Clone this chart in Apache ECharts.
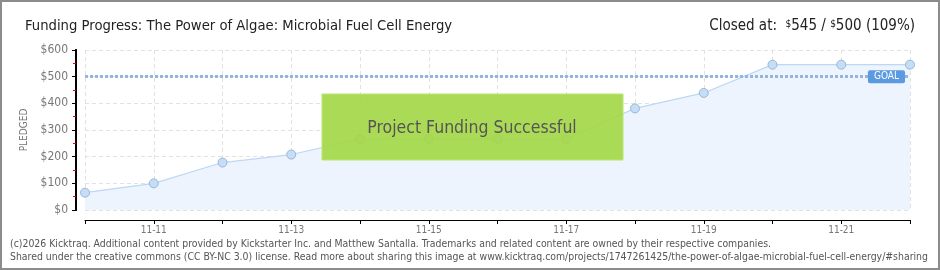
<!DOCTYPE html>
<html><head><meta charset="utf-8">
<script src="https://cdn.jsdelivr.net/npm/echarts@6/dist/echarts.min.js"></script>
<style>
html,body{margin:0;padding:0;background:#fff;}
#c{width:940px;height:270px;box-sizing:border-box;border:2px solid #8c8c8c;}
</style></head><body>
<div id="c"></div>
<script>
const categories = ['11-10','11-11','11-12','11-13','11-14','11-15','11-16','11-17','11-18','11-19','11-20','11-21','11-22'];
const pledged = [65,100,178,208,266,266,266,266,381,439,545,545,545];
const goal = 500;
const pledgedTotal = 545;
const percent = 109;
const titleText = 'Funding Progress: The Power of Algae: Microbial Fuel Cell Energy';
const footer1 = '(c)2026 Kicktraq. Additional content provided by Kickstarter Inc. and Matthew Santalla. Trademarks and related content are owned by their respective companies.';
const footer2 = 'Shared under the creative commons (CC BY-NC 3.0) license. Read more about sharing this image at www.kicktraq.com/projects/1747261425/the-power-of-algae-microbial-fuel-cell-energy/#sharing';

const FONT = '"Liberation Sans Narrow","DejaVu Sans Condensed","Liberation Sans",sans-serif';
const chart = echarts.init(document.getElementById('c'), null, {renderer:'canvas'});
const labelShow = (i) => i % 2 === 1;
chart.setOption({
  animation:false,
  textStyle:{fontFamily:FONT},
  title:[
    {text:titleText,left:18,top:12,textStyle:{fontFamily:FONT,fontSize:14.7,fontWeight:'normal',color:'#222'}},
    {text:'Closed at:  {sup|$}'+pledgedTotal+' / {sup|$}'+goal+' ('+percent+'%)',right:18,top:12,
     textStyle:{fontFamily:FONT,fontSize:15,fontWeight:'normal',color:'#222',
       rich:{sup:{fontFamily:FONT,fontSize:10,color:'#222',verticalAlign:'top',lineHeight:12}}}}
  ],
  grid:{left:83,right:28,top:48,bottom:58,containLabel:false},
  xAxis:{
    type:'category',data:categories,boundaryGap:false,offset:10,
    axisLine:{show:true,onZero:false,lineStyle:{color:'#000',width:1}},
    axisTick:{show:true,interval:0,length:4,lineStyle:{color:'#000',width:1}},
    axisLabel:{interval:labelShow,color:'#777',fontSize:10,fontFamily:FONT,margin:5},
    splitLine:{show:true,interval:0,lineStyle:{color:'#e2e2e2',type:[4,3]}}
  },
  yAxis:[{
    type:'value',min:0,max:600,interval:100,offset:9,
    name:'PLEDGED',nameLocation:'middle',nameGap:46,
    nameTextStyle:{color:'#777',fontSize:10,fontFamily:FONT,letterSpacing:2},
    axisLine:{show:true,onZero:false,lineStyle:{color:'#000',width:2}},
    axisTick:{show:true,length:4,lineStyle:{color:'#000',width:1}},
    minorTick:{show:true,splitNumber:2,length:3,lineStyle:{color:'#e00000',width:1}},
    axisLabel:{formatter:v=>'$'+v,color:'#777',fontSize:12,fontFamily:FONT,margin:8},
    splitLine:{show:true,lineStyle:{color:'#e2e2e2',type:[4,3]}}
  },{
    type:'value',min:0,max:600,interval:100,offset:9,position:'left',
    axisLine:{show:true,onZero:false,lineStyle:{color:'#000',width:2}},
    axisTick:{show:false},axisLabel:{show:false},splitLine:{show:false}
  }],
  series:[{
    type:'line',data:pledged,yAxisIndex:0,
    symbol:'circle',symbolSize:9,
    lineStyle:{color:'#bcd8f3',width:1.2},
    itemStyle:{color:'#c6ddf6',borderColor:'#98b6d8',borderWidth:1},
    areaStyle:{color:'#edf4fd',opacity:1},
    markLine:{
      silent:true,symbol:'none',
      lineStyle:{color:'#93b5de',width:3,type:[3,2]},
      label:{show:true,position:'insideEnd',formatter:'GOAL',distance:[5,0],
        color:'#fff',fontSize:10,fontFamily:FONT,backgroundColor:'#5b9ae0',
        padding:[2,6,1,6],borderRadius:2},
      data:[{yAxis:goal}]
    },
    z:2
  }],
  graphic:[
    {type:'text',left:835,top:118,z:0,style:{text:'K',font:'italic 72px '+FONT,fill:'#eaf1f9'}},
    {type:'rect',shape:{x:320,y:92,width:301,height:66},z:10,
     style:{fill:'rgba(164,216,72,0.92)',stroke:'#b8e670',lineWidth:1}},
    {type:'text',x:470,y:126,z:11,
     style:{text:'Project Funding Successful',align:'center',verticalAlign:'middle',
       font:'17.5px '+FONT,fill:'#555',textShadowColor:'#fff',textShadowOffsetX:1,textShadowOffsetY:1,textShadowBlur:0}},
    {type:'text',left:8,top:237,z:11,style:{text:footer1,font:'10.4px '+FONT,fill:'#555'}},
    {type:'text',left:8,top:250,z:11,style:{text:footer2,font:'10.4px '+FONT,fill:'#555'}}
  ]
});
</script>
</body></html>
